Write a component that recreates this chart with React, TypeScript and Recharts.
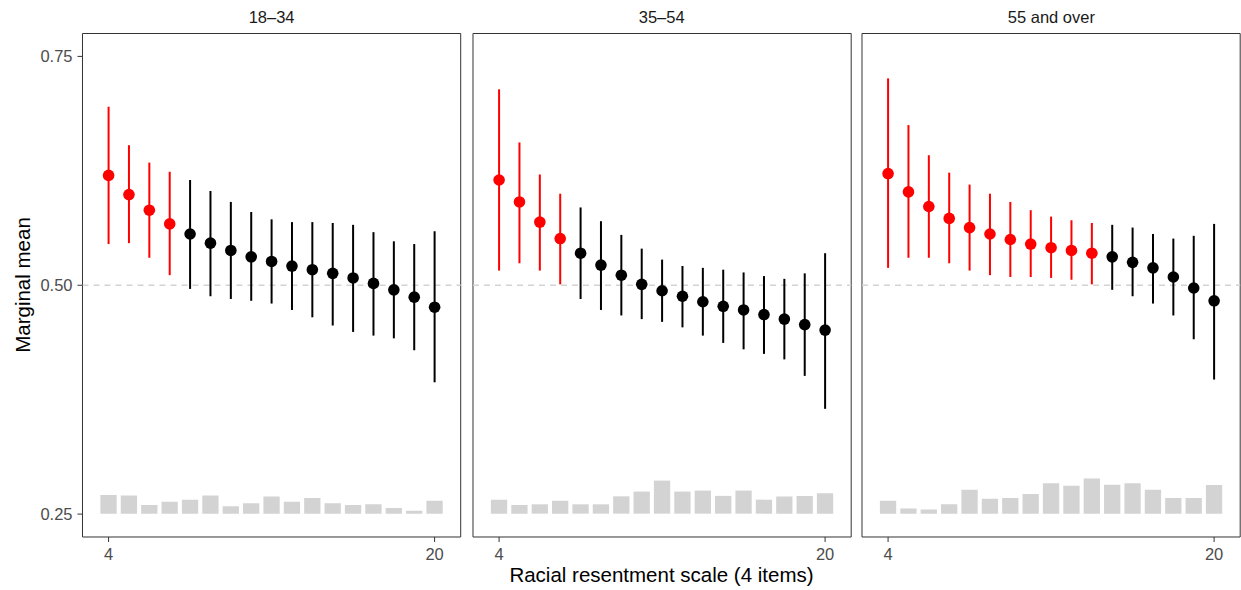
import React from 'react';
import {
  ComposedChart,
  Bar,
  Scatter,
  ErrorBar,
  XAxis,
  YAxis,
  ReferenceLine,
  ReferenceArea,
} from 'recharts';

// ---------- data ----------
const scaleValues = [4, 5, 6, 7, 8, 9, 10, 11, 12, 13, 14, 15, 16, 17, 18, 19, 20];
const panelLabels = ['18–34', '35–54', '55 and over'];
const xTicks = [4, 20];
const yTicks = [0.25, 0.5, 0.75];
const yTickLabels = ['0.25', '0.50', '0.75'];
const xTitle = 'Racial resentment scale (4 items)';
const yTitle = 'Marginal mean';

const young_mean = [0.620, 0.599, 0.582, 0.567, 0.556, 0.546, 0.538, 0.531, 0.526, 0.521, 0.517, 0.513, 0.508, 0.502, 0.495, 0.487, 0.476];
const young_lower = [0.545, 0.546, 0.530, 0.511, 0.496, 0.488, 0.485, 0.483, 0.480, 0.473, 0.465, 0.456, 0.449, 0.445, 0.442, 0.429, 0.394];
const young_upper = [0.695, 0.653, 0.634, 0.624, 0.615, 0.603, 0.591, 0.580, 0.572, 0.569, 0.569, 0.568, 0.566, 0.558, 0.548, 0.545, 0.559];
const young_hist = [0.2710, 0.2702, 0.2600, 0.2636, 0.2658, 0.2702, 0.2585, 0.2618, 0.2691, 0.2636, 0.2677, 0.2618, 0.2600, 0.2607, 0.2568, 0.2538, 0.2647];

const middle_mean = [0.615, 0.591, 0.569, 0.551, 0.535, 0.522, 0.511, 0.501, 0.494, 0.488, 0.482, 0.477, 0.473, 0.468, 0.463, 0.457, 0.451];
const middle_lower = [0.516, 0.524, 0.516, 0.501, 0.485, 0.473, 0.467, 0.463, 0.460, 0.454, 0.445, 0.437, 0.430, 0.425, 0.419, 0.401, 0.365];
const middle_upper = [0.714, 0.656, 0.621, 0.600, 0.585, 0.570, 0.555, 0.540, 0.528, 0.521, 0.519, 0.517, 0.514, 0.510, 0.507, 0.513, 0.535];
const middle_hist = [0.2658, 0.2600, 0.2607, 0.2647, 0.2607, 0.2607, 0.2694, 0.2746, 0.2866, 0.2746, 0.2757, 0.2699, 0.2757, 0.2658, 0.2691, 0.2699, 0.2727];

const old_mean = [0.622, 0.602, 0.586, 0.573, 0.563, 0.556, 0.550, 0.545, 0.541, 0.538, 0.535, 0.531, 0.525, 0.519, 0.509, 0.497, 0.483];
const old_lower = [0.519, 0.530, 0.530, 0.524, 0.516, 0.511, 0.509, 0.509, 0.508, 0.506, 0.501, 0.495, 0.488, 0.480, 0.467, 0.441, 0.397];
const old_upper = [0.726, 0.675, 0.642, 0.623, 0.610, 0.600, 0.591, 0.582, 0.575, 0.571, 0.568, 0.566, 0.563, 0.556, 0.551, 0.554, 0.567];
const old_hist = [0.2647, 0.2560, 0.2549, 0.2607, 0.2767, 0.2669, 0.2677, 0.2721, 0.2836, 0.2811, 0.2888, 0.2822, 0.2836, 0.2767, 0.2677, 0.2677, 0.2819];

const HIST_BASE = 0.2505;
const NULL_VALUE = 0.5;
const X_DOMAIN = [2.72, 21.28];
const Y_DOMAIN = [0.225, 0.775];

// ---------- styling ----------
const FONT = '"Liberation Sans", Arial, Helvetica, sans-serif';
const RED = '#FF0000';
const BLACK = '#000000';
const PANEL_TOP = 33.5;
const PANEL_BOTTOM = 537;
const PANEL_W = 378.2;
const PANEL_LEFTS = [82.5, 472.6, 862.3];
const H = 590;

type Row = { x: number; mean: number; err: number[]; hist: number[]; sig: boolean };

function buildRows(mean: number[], lower: number[], upper: number[], hist: number[]): Row[] {
  return scaleValues.map((x, i) => ({
    x,
    mean: mean[i],
    err: [mean[i] - lower[i], upper[i] - mean[i]],
    hist: [HIST_BASE, hist[i]],
    sig: lower[i] > NULL_VALUE,
  }));
}

const panels = [
  buildRows(young_mean, young_lower, young_upper, young_hist),
  buildRows(middle_mean, middle_lower, middle_upper, middle_hist),
  buildRows(old_mean, old_lower, old_upper, old_hist),
];

const makeDot = (color: string) => (props: any) => (
  <circle cx={props.cx} cy={props.cy} r={5.8} fill={color} stroke="none" />
);

function Panel({ rows, index }: { rows: Row[]; index: number }) {
  const showY = index === 0;
  const leftPad = showY ? PANEL_LEFTS[0] : 10;
  const chartLeft = PANEL_LEFTS[index] - leftPad;
  const rightPad = 5;
  const width = leftPad + PANEL_W + rightPad;
  const yAxisWidth = 60;
  const xAxisHeight = 30;
  const sigRows = rows.filter((r) => r.sig);
  const nsRows = rows.filter((r) => !r.sig);
  return (
    <div style={{ position: 'absolute', left: chartLeft, top: 0, width, height: H }}>
      <ComposedChart
        width={width}
        height={H}
        data={rows}
        margin={{
          top: PANEL_TOP,
          bottom: H - PANEL_BOTTOM - xAxisHeight,
          left: showY ? leftPad - yAxisWidth : leftPad,
          right: rightPad,
        }}
      >
        <XAxis
          dataKey="x"
          type="number"
          domain={X_DOMAIN}
          allowDataOverflow
          ticks={xTicks}
          height={xAxisHeight}
          axisLine={false}
          tickLine={{ stroke: '#333333', strokeWidth: 1 }}
          tickSize={5}
          tickMargin={6}
          tick={{ fill: '#4D4D4D', fontSize: 16.5, fontFamily: FONT }}
          interval={0}
        />
        <YAxis
          type="number"
          domain={Y_DOMAIN}
          allowDataOverflow
          ticks={yTicks}
          hide={!showY}
          width={yAxisWidth}
          axisLine={false}
          tickLine={{ stroke: '#333333', strokeWidth: 1 }}
          tickSize={5}
          tickMargin={5}
          tickFormatter={(v: number) => yTickLabels[yTicks.indexOf(v)] ?? String(v)}
          tick={{ fill: '#4D4D4D', fontSize: 16.5, fontFamily: FONT }}
          interval={0}
        />
        <ReferenceLine
          y={NULL_VALUE}
          stroke="#D3D3D3"
          strokeWidth={1.3}
          strokeDasharray="6 5"
        />
        <Bar dataKey="hist" fill="#D3D3D3" barSize={16.3} isAnimationActive={false} />
        <Scatter
          data={nsRows}
          dataKey="mean"
          fill={BLACK}
          shape={makeDot(BLACK)}
          isAnimationActive={false}
        >
          <ErrorBar dataKey="err" direction="y" width={0} stroke={BLACK} strokeWidth={2} isAnimationActive={false} />
        </Scatter>
        <Scatter
          data={sigRows}
          dataKey="mean"
          fill={RED}
          shape={makeDot(RED)}
          isAnimationActive={false}
        >
          <ErrorBar dataKey="err" direction="y" width={0} stroke={RED} strokeWidth={2} isAnimationActive={false} />
        </Scatter>
        <ReferenceArea
          x1={X_DOMAIN[0]}
          x2={X_DOMAIN[1]}
          y1={Y_DOMAIN[0]}
          y2={Y_DOMAIN[1]}
          fill="none"
          fillOpacity={0}
          stroke="#333333"
          strokeWidth={1}
          ifOverflow="visible"
        />
      </ComposedChart>
    </div>
  );
}

export default function App() {
  return (
    <div
      style={{
        position: 'absolute',
        left: 0,
        top: 0,
        width: 1241,
        height: H,
        overflow: 'hidden',
        background: '#FFFFFF',
        fontFamily: FONT,
      }}
    >
      {panels.map((rows, i) => (
        <Panel key={i} rows={rows} index={i} />
      ))}
      <svg
        width={1241}
        height={H}
        style={{ position: 'absolute', left: 0, top: 0, pointerEvents: 'none' }}
      >
        {panelLabels.map((label, i) => (
          <text
            key={label}
            x={PANEL_LEFTS[i] + PANEL_W / 2}
            y={23.3}
            textAnchor="middle"
            fontSize={16.5}
            fill="#1A1A1A"
            fontFamily={FONT}
          >
            {label}
          </text>
        ))}
        <text x={661.5} y={582} textAnchor="middle" fontSize={20.5} fill="#000000" fontFamily={FONT}>
          {xTitle}
        </text>
        <text
          x={29.5}
          y={285}
          textAnchor="middle"
          fontSize={20.5}
          fill="#000000"
          fontFamily={FONT}
          transform="rotate(-90 29.5 285)"
        >
          {yTitle}
        </text>
      </svg>
    </div>
  );
}
